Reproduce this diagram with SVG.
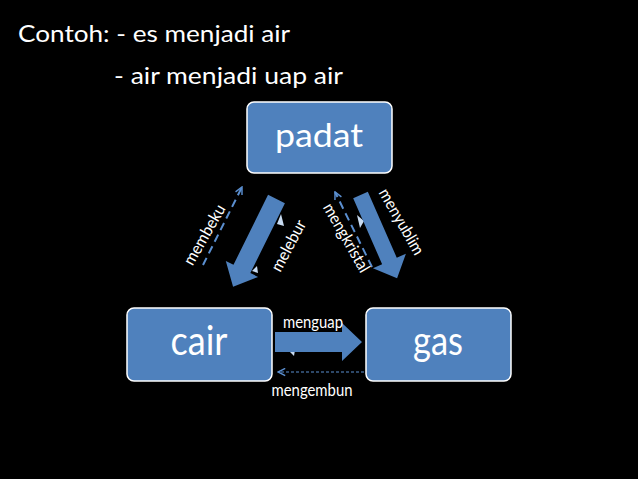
<svg xmlns="http://www.w3.org/2000/svg" width="638" height="479" viewBox="0 0 638 479">
<defs>
<style>
.box{fill:#4f81bd;stroke:#ffffff;stroke-width:1.5}
.big{fill:#ffffff;font-family:Lato,"Open Sans","DejaVu Sans",sans-serif}
.lbl{fill:#ffffff;font-family:Lato,"Open Sans","DejaVu Sans",sans-serif;font-size:16.5px}
.blk{fill:#4f81bd}
.dash{fill:none;stroke:#5b8fd0;stroke-width:2;stroke-dasharray:8,5}
.dash2{fill:none;stroke:#5b8fd0;stroke-width:1;stroke-dasharray:3,2}
.hid{fill:#c9dcf2}
</style>
<marker id="open" viewBox="0 0 10 10" refX="9" refY="5" markerWidth="9" markerHeight="9" orient="auto" markerUnits="userSpaceOnUse">
<path d="M1,1 L9,5 L1,9" fill="none" stroke="#5b8fd0" stroke-width="1.6"/>
</marker>
</defs>
<rect width="638" height="479" fill="#000000"/>
<g id="title">
<text class="big" x="18" y="42" font-size="24" textLength="272" lengthAdjust="spacingAndGlyphs">Contoh: - es menjadi air</text>
<text class="big" x="114" y="84" font-size="24" textLength="229" lengthAdjust="spacingAndGlyphs">- air menjadi uap air</text>
</g>
<g id="padat">
<rect class="box" x="247" y="102" width="145" height="71" rx="7"/>
<text class="big" x="319" y="147" font-size="32" text-anchor="middle" textLength="88" lengthAdjust="spacingAndGlyphs">padat</text>
</g>
<g id="cair">
<rect class="box" x="127" y="308" width="145" height="73" rx="7"/>
<text class="big" x="199" y="355" font-size="40" text-anchor="middle" textLength="57" lengthAdjust="spacingAndGlyphs">cair</text>
</g>
<g id="gas">
<rect class="box" x="366" y="308" width="145" height="73" rx="7"/>
<text class="big" x="438" y="355" font-size="40" text-anchor="middle" textLength="50" lengthAdjust="spacingAndGlyphs">gas</text>
</g>
<g id="connectors">
<!-- partly hidden thin arrows behind block arrows -->
<polygon class="hid" points="281,214 284,226 277,224"/>
<polygon class="hid" points="252,271 257,266 258,273"/>
<polygon class="hid" points="357,215 364,221 360,228"/>
<polygon class="hid" points="289,351 294,356 295,350"/>
<!-- block arrows -->
<polygon class="blk" transform="translate(276.5,199) rotate(116.3)" points="0,-9.4 78,-9.4 78,-18 98,0 78,18 78,9.4 0,9.4"/>
<polygon class="blk" transform="translate(360.5,195) rotate(66.3)" points="0,-8 72,-8 72,-18 91,0 72,18 72,8 0,8"/>
<polygon class="blk" transform="translate(275,342)" points="0,-10 67,-10 67,-19 87,0 67,19 67,10 0,10"/>
<!-- dashed reverse arrows -->
<line class="dash" x1="203" y1="265" x2="242" y2="187" marker-end="url(#open)"/>
<line class="dash" x1="372" y1="267" x2="335" y2="192" marker-end="url(#open)"/>
<line class="dash2" x1="364" y1="372" x2="278" y2="372" marker-end="url(#open)"/>
<!-- labels -->
<text class="lbl" transform="translate(205,235) rotate(-60)" y="5" text-anchor="middle" textLength="67" lengthAdjust="spacingAndGlyphs">membeku</text>
<text class="lbl" transform="translate(289,246) rotate(-62)" y="5" text-anchor="middle" textLength="56" lengthAdjust="spacingAndGlyphs">melebur</text>
<text class="lbl" transform="translate(401,222) rotate(60)" y="5" text-anchor="middle" textLength="74" lengthAdjust="spacingAndGlyphs">menyublim</text>
<text class="lbl" transform="translate(346,238) rotate(60)" y="5" text-anchor="middle" textLength="77" lengthAdjust="spacingAndGlyphs">mengkristal</text>
<text class="lbl" x="313" y="328" text-anchor="middle" textLength="60" lengthAdjust="spacingAndGlyphs">menguap</text>
<text class="lbl" x="312" y="396" text-anchor="middle" textLength="81" lengthAdjust="spacingAndGlyphs">mengembun</text>
</g>
</svg>
